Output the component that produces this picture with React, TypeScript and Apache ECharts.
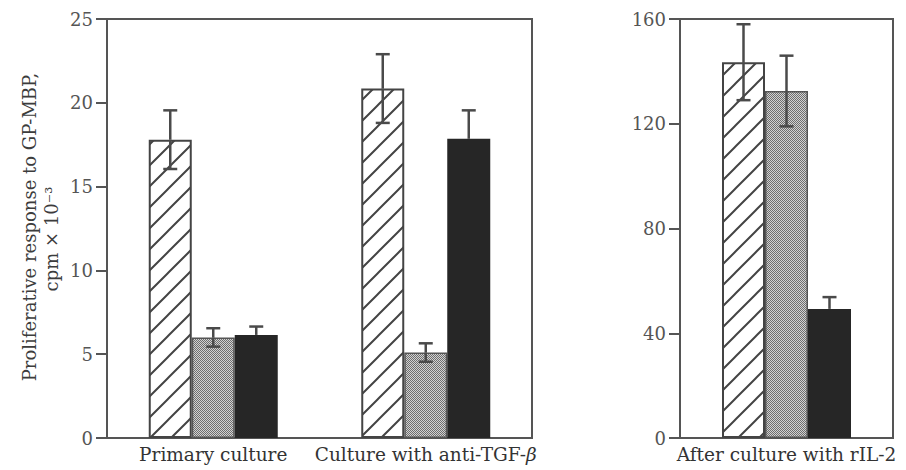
import React, { useEffect, useRef } from "react";
import * as echarts from "echarts";

// ---- data ----
const leftCategories = ["Primary culture", "Culture with anti-TGF-β"];
const rightCategories = ["After culture with rIL-2"];
const seriesNames = ["Hatched", "Stippled", "Solid"];

const leftHatched = [17.8, 20.85];
const leftHatchedErr = [1.75, 2.05];
const leftStippled = [6.0, 5.1];
const leftStippledErr = [0.55, 0.55];
const leftSolid = [6.15, 17.85];
const leftSolidErr = [0.5, 1.7];

const rightHatched = [143.5];
const rightHatchedErr = [14.5];
const rightStippled = [132.5];
const rightStippledErr = [13.5];
const rightSolid = [49.3];
const rightSolidErr = [4.5];

const leftTicks = { min: 0, max: 25, interval: 5 };
const rightTicks = { min: 0, max: 160, interval: 40 };

const yAxisTitleLines = ["Proliferative response to GP-MBP,", "cpm × 10⁻³"];

// ---- styles ----
const BAR_W = 43;
const FONT = "'DejaVu Serif', 'Liberation Serif', serif";
const LINE = "#555555";

function makeHatch(): HTMLCanvasElement {
  const s = 21;
  const c = document.createElement("canvas");
  c.width = s;
  c.height = s;
  const g = c.getContext("2d")!;
  g.fillStyle = "#ffffff";
  g.fillRect(0, 0, s, s);
  g.strokeStyle = "#444444";
  g.lineWidth = 2;
  g.beginPath();
  g.moveTo(-2, s + 2);
  g.lineTo(s + 2, -2);
  g.moveTo(-2, 2);
  g.lineTo(2, -2);
  g.moveTo(s - 2, s + 2);
  g.lineTo(s + 2, s - 2);
  g.stroke();
  return c;
}

function makeStipple(): HTMLCanvasElement {
  const c = document.createElement("canvas");
  c.width = 2;
  c.height = 2;
  const g = c.getContext("2d")!;
  g.fillStyle = "#d2d2d2";
  g.fillRect(0, 0, 2, 2);
  g.fillStyle = "#6e6e6e";
  g.fillRect(0, 0, 1, 1);
  g.fillRect(1, 1, 1, 1);
  return c;
}

export default function App() {
  const ref = useRef<HTMLDivElement>(null);

  useEffect(() => {
    if (!ref.current) return;
    const chart = echarts.init(ref.current, undefined, { renderer: "svg" });
    const hatch = { image: makeHatch(), repeat: "repeat" } as any;
    const stipple = { image: makeStipple(), repeat: "repeat" } as any;

    const barStyles = [
      { color: hatch, borderColor: "#444444", borderWidth: 2 },
      { color: stipple, borderColor: "#555555", borderWidth: 1.5 },
      { color: "#262626", borderColor: "#262626", borderWidth: 0 },
    ];

    const leftVals = [leftHatched, leftStippled, leftSolid];
    const leftErrs = [leftHatchedErr, leftStippledErr, leftSolidErr];
    const rightVals = [rightHatched, rightStippled, rightSolid];
    const rightErrs = [rightHatchedErr, rightStippledErr, rightSolidErr];

    const errData = (vals: number[][], errs: number[][]) => {
      const out: number[][] = [];
      vals.forEach((arr, s) =>
        arr.forEach((v, i) => {
          out.push([i, v, v - errs[s][i], v + errs[s][i], s]);
        })
      );
      return out;
    };

    const renderErr = (params: any, api: any) => {
      const cat = api.value(0);
      const v = api.value(1);
      const lo = api.value(2);
      const hi = api.value(3);
      const s = api.value(4);
      const center = api.coord([cat, v]);
      const x = center[0] + (s - 1) * BAR_W;
      const yTop = api.coord([cat, hi])[1];
      const yLo = api.coord([cat, lo])[1];
      const yV = center[1];
      const cap = 7;
      const st = { stroke: "#4a4a4a", lineWidth: 2.5 };
      const children: any[] = [
        { type: "line", shape: { x1: x, y1: yTop, x2: x, y2: yV }, style: st },
        { type: "line", shape: { x1: x - cap, y1: yTop, x2: x + cap, y2: yTop }, style: st },
      ];
      if (s !== 2) {
        children.push(
          { type: "line", shape: { x1: x, y1: yV, x2: x, y2: yLo }, style: st },
          { type: "line", shape: { x1: x - cap, y1: yLo, x2: x + cap, y2: yLo }, style: st }
        );
      }
      return { type: "group", children };
    };

    const axisLabelStyle = { color: "#555555", fontFamily: FONT, fontSize: 18 };
    const catLabel = {
      color: "#333333",
      fontFamily: FONT,
      fontSize: 18.5,
      margin: 7,
      interval: 0,
      formatter: (v: string) => v.replace("β", "{b|β}"),
      rich: { b: { fontStyle: "italic", fontFamily: FONT, fontSize: 18.5, color: "#333333" } },
    };

    const makeBars = (vals: number[][], xIdx: number) =>
      vals.map((arr, s) => ({
        name: seriesNames[s],
        type: "bar",
        xAxisIndex: xIdx,
        yAxisIndex: xIdx,
        data: arr,
        barWidth: BAR_W,
        barGap: "0%",
        itemStyle: barStyles[s],
        z: 2,
      }));

    const titleStyle = { fontFamily: FONT, fontSize: 18, fill: "#3c3c3c", align: "center", verticalAlign: "middle" };

    chart.setOption({
      animation: false,
      backgroundColor: "#ffffff",
      graphic: [
        { type: "text", x: 29, y: 227, rotation: Math.PI / 2, style: { ...titleStyle, text: yAxisTitleLines[0] } },
        { type: "text", x: 51, y: 239, rotation: Math.PI / 2, style: { ...titleStyle, text: yAxisTitleLines[1] } },
      ],
      grid: [
        { left: 107, right: 374, top: 19, bottom: 32, show: true, borderColor: LINE, borderWidth: 2, backgroundColor: "transparent" },
        { left: 680, right: 13, top: 19, bottom: 32, show: true, borderColor: LINE, borderWidth: 2, backgroundColor: "transparent" },
      ],
      xAxis: [
        {
          type: "category", gridIndex: 0, data: leftCategories,
          axisLine: { lineStyle: { color: LINE, width: 2 } },
          axisTick: { show: false }, axisLabel: catLabel,
        },
        {
          type: "category", gridIndex: 1, data: rightCategories,
          axisLine: { lineStyle: { color: LINE, width: 2 } },
          axisTick: { show: false }, axisLabel: catLabel,
        },
      ],
      yAxis: [
        {
          type: "value", gridIndex: 0, ...leftTicks,
          axisLine: { show: true, lineStyle: { color: LINE, width: 2 } },
          axisTick: { show: true, length: 11, lineStyle: { color: LINE, width: 2 } },
          splitLine: { show: false },
          axisLabel: { ...axisLabelStyle, margin: 14 },
        },
        {
          type: "value", gridIndex: 1, ...rightTicks,
          axisLine: { show: true, lineStyle: { color: LINE, width: 2 } },
          axisTick: { show: true, length: 11, lineStyle: { color: LINE, width: 2 } },
          splitLine: { show: false },
          axisLabel: { ...axisLabelStyle, margin: 14 },
        },
      ],
      series: [
        ...makeBars(leftVals, 0),
        ...makeBars(rightVals, 1),
        {
          type: "custom", xAxisIndex: 0, yAxisIndex: 0, z: 5,
          renderItem: renderErr, data: errData(leftVals, leftErrs),
          encode: { x: 0, y: [1, 2, 3] },
        },
        {
          type: "custom", xAxisIndex: 1, yAxisIndex: 1, z: 5,
          renderItem: renderErr, data: errData(rightVals, rightErrs),
          encode: { x: 0, y: [1, 2, 3] },
        },
      ],
    } as any);
    return () => chart.dispose();
  }, []);

  return (
    <div
      ref={ref}
      style={{ position: "absolute", left: 0, top: 0, width: 906, height: 470, background: "#fff" }}
    />
  );
}
